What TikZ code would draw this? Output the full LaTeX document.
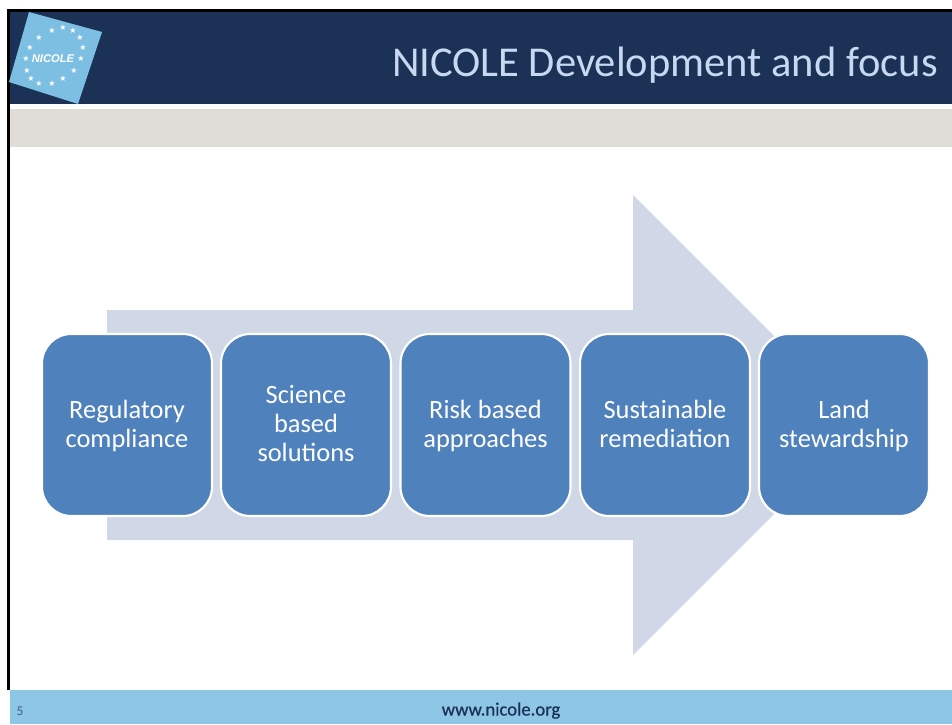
\documentclass[tikz,border=0pt]{standalone}
\usepackage{fontspec}
\setmainfont{Carlito}
\newfontfamily\logofont{Liberation Sans}
\newfontfamily\starfont{DejaVu Sans}
\newfontfamily\urlfont[FakeBold=0.6]{Carlito}
\newcommand\tstrut{\rule{0pt}{18.1pt}}
\definecolor{navy}{HTML}{1B3156}
\definecolor{beige}{HTML}{E0DDD8}
\definecolor{sky}{HTML}{8EC6E6}
\definecolor{logosky}{HTML}{7DBFE2}
\definecolor{boxblue}{HTML}{4F81BD}
\definecolor{arrowblue}{HTML}{D0D8E8}
\definecolor{titleblue}{HTML}{C6D9F0}
\tikzset{
  px/.style={x=0.75pt,y=-0.75pt},
  stagebox/.style={draw=white,line width=1.6pt,fill=boxblue,rounded corners=22pt,
    minimum width=127.5pt,minimum height=136.5pt,inner sep=0pt,
    text=white,align=center,font=\fontsize{19.8}{21.6}\selectfont,anchor=center},
  logostar/.style={text=white,inner sep=0pt,font=\starfont\fontsize{6}{6}\selectfont},
}
\begin{document}
\begin{tikzpicture}[px]
\useasboundingbox (0,0) rectangle (952,724);
\fill[white] (0,0) rectangle (952,724);
% header bands
\fill[navy] (8,10) rectangle (952,104);
\fill[beige] (9,109) rectangle (952,147);
\fill[sky] (10,690) rectangle (952,724);
% frame
\fill[black] (7,9) rectangle (952,12);
\fill[black] (7,9) rectangle (10,690);
% logo
\fill[logosky] (29,12) -- (102,32) -- (78,104) -- (9,82) -- cycle;
\node[text=white,inner sep=0pt,font=\logofont\bfseries\itshape\fontsize{8.4}{10}\selectfont] (logo) at (53,59) {NICOLE};
\foreach \x/\y in {63/28,52/31,73/31,39/38,80/38,30/48,83/48,26/59,81/59,27/71,74/71,31/79,63/79,39/84,52/84}{
  \node[logostar] at (\x,\y) {★};
}
% arrow
\fill[arrowblue] (107,310) -- (633,310) -- (633,195) -- (863,425) -- (633,655) -- (633,540) -- (107,540) -- cycle;
% boxes
\node[stagebox] (a) at (127,425) {\tstrut Regulatory\\\strut compliance};
\node[stagebox] (b) at (306,425) {\tstrut Science\\\strut based\\\strut solutions};
\node[stagebox] (c) at (485.5,425) {\tstrut Risk based\\\strut approaches};
\node[stagebox] (d) at (665,425) {\tstrut Sustainable\\\strut remediation};
\node[stagebox] (e) at (844,425) {\tstrut Land\\\strut stewardship};
% texts
\node[anchor=base east,inner sep=0pt,text=titleblue,font=\fontsize{31.9}{36}\selectfont] (title) at (938,76) {NICOLE Development and focus};
\node[inner sep=0pt,anchor=base,text=navy,font=\urlfont\fontsize{14}{16}\selectfont] (url) at (501,715.5) {www.nicole.org};
\node[inner sep=0pt,anchor=base,text=navy!70!sky,font=\fontsize{10}{12}\selectfont] (num) at (20,715) {5};
\end{tikzpicture}
\end{document}
